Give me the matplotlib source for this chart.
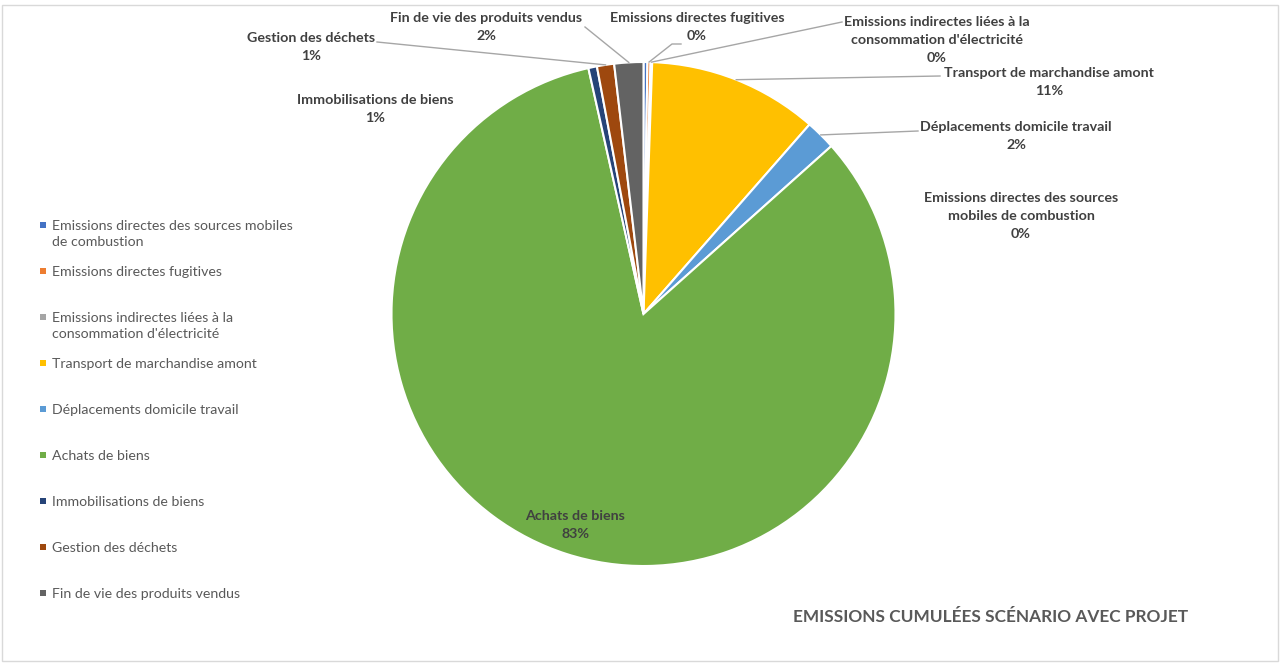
import numpy as np
import matplotlib.pyplot as plt
from matplotlib.patches import Rectangle

# data (share of cumulated emissions, %)
categories = [
    "Emissions directes des sources mobiles de combustion",
    "Emissions directes fugitives",
    "Emissions indirectes liées à la consommation d'électricité",
    "Transport de marchandise amont",
    "Déplacements domicile travail",
    "Achats de biens",
    "Immobilisations de biens",
    "Gestion des déchets",
    "Fin de vie des produits vendus",
]
values = [0.25, 0.2, 0.1, 10.9, 1.94, 83.1, 0.55, 1.1, 1.86]
pct_labels = ["0%", "0%", "0%", "11%", "2%", "83%", "1%", "1%", "2%"]
legend_labels = [
    "Emissions directes des sources mobiles\nde combustion",
    "Emissions directes fugitives",
    "Emissions indirectes liées à la\nconsommation d'électricité",
    "Transport de marchandise amont",
    "Déplacements domicile travail",
    "Achats de biens",
    "Immobilisations de biens",
    "Gestion des déchets",
    "Fin de vie des produits vendus",
]
slice_labels = [
    "Emissions directes des sources\nmobiles de combustion",
    "Emissions directes fugitives",
    "Emissions indirectes liées à la\nconsommation d'électricité",
    "Transport de marchandise amont",
    "Déplacements domicile travail",
    "Achats de biens",
    "Immobilisations de biens",
    "Gestion des déchets",
    "Fin de vie des produits vendus",
]
colors = ["#4472C4", "#ED7D31", "#A5A5A5", "#FFC000", "#5B9BD5",
          "#70AD47", "#264478", "#9E480E", "#636363"]

W, H = 1282, 671
cx, cy, r = 643.5, H - 314, 252

# label anchors (pixel coords, y from top) and leader line end points
label_pos = [(1021, 216), (697, 27), (937, 40), (1049, 82), (1016, 136),
             (575, 525), (375, 109), (311, 47), (486, 27)]
leader_end = [None, [(672, 44), (681, 44)], [(842, 22)], [(940, 76)],
              [(918, 131)], None, None, [(377, 42)], [(585, 27)]]

plt.rcParams['font.family'] = ['Lato', 'DejaVu Sans']

fig = plt.figure(figsize=(W / 100, H / 100), dpi=100)
ax = fig.add_axes([0, 0, 1, 1])

wedges, _ = ax.pie(values, colors=colors, startangle=90, counterclock=False,
                   center=(cx, cy), radius=r,
                   wedgeprops=dict(edgecolor="white", linewidth=1.5))
ax.set_xlim(0, W)
ax.set_ylim(0, H)
ax.set_aspect('equal')
ax.axis('off')

txt_col = "#404040"
for i, w in enumerate(wedges):
    lx, ly = label_pos[i]
    ax.text(lx, H - ly, slice_labels[i] + "\n" + pct_labels[i], ha="center",
            va="center", fontsize=10.3, fontweight="bold", color=txt_col,
            linespacing=1.6)
    if leader_end[i] is not None:
        mid = np.deg2rad((w.theta1 + w.theta2) / 2)
        xs = [cx + r * np.cos(mid)] + [p[0] for p in leader_end[i]]
        ys = [cy + r * np.sin(mid)] + [H - p[1] for p in leader_end[i]]
        ax.plot(xs, ys, color="#A6A6A6", lw=1)

# legend on the left
leg_y0, leg_step = 225, 46
for i, lab in enumerate(legend_labels):
    y = H - (leg_y0 + i * leg_step)
    ax.add_patch(Rectangle((40, y - 3), 6, 6, color=colors[i], lw=0))
    ax.text(52, y + 5, lab, ha="left", va="top", fontsize=10.2,
            color="#595959", linespacing=1.45)

ax.text(991, H - 617, "EMISSIONS CUMULÉES SCÉNARIO AVEC PROJET", ha="center",
        va="center", fontsize=12.4, color="#595959", fontweight="bold")

# chart frame
fig.patches.append(Rectangle((2 / W, 10 / H), 1276 / W, 656 / H,
                             transform=fig.transFigure, fill=False,
                             edgecolor="#D9D9D9", lw=1))

fig.savefig("out.png", dpi=100)
